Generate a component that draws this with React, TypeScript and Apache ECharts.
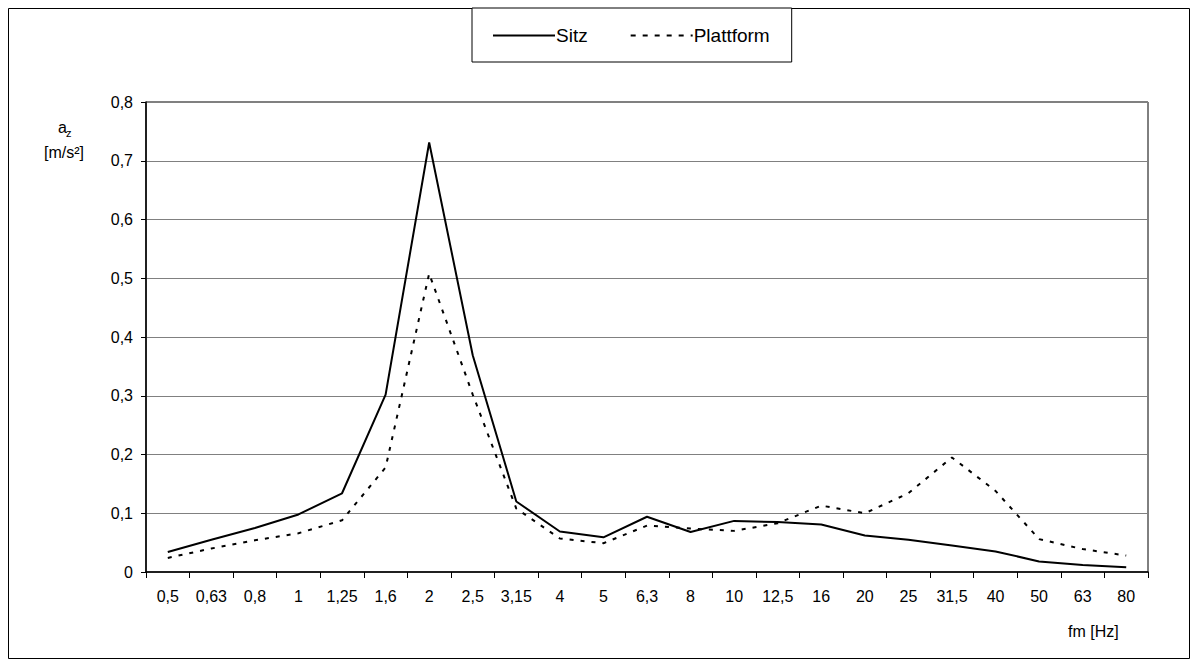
import React, { useEffect, useRef } from "react";
import * as echarts from "echarts";

const categories = ["0,5", "0,63", "0,8", "1", "1,25", "1,6", "2", "2,5", "3,15", "4", "5", "6,3", "8", "10", "12,5", "16", "20", "25", "31,5", "40", "50", "63", "80"];
const sitz = [0.034, 0.055, 0.075, 0.098, 0.134, 0.302, 0.731, 0.369, 0.12, 0.069, 0.059, 0.094, 0.068, 0.087, 0.085, 0.081, 0.062, 0.055, 0.045, 0.035, 0.018, 0.012, 0.008];
const plattform = [0.024, 0.04, 0.054, 0.066, 0.088, 0.178, 0.508, 0.302, 0.108, 0.057, 0.049, 0.079, 0.074, 0.07, 0.083, 0.113, 0.1, 0.134, 0.195, 0.138, 0.056, 0.039, 0.028];
const yMin = 0;
const yMax = 0.8;
const yStep = 0.1;

const FONT = "'Liberation Sans', Arial, sans-serif";

export default function App() {
  const ref = useRef<HTMLDivElement>(null);
  useEffect(() => {
    document.body.style.margin = "0";
    const chart = echarts.init(ref.current!, null, { renderer: "svg" });
    chart.setOption({
      animation: false,
      backgroundColor: "#ffffff",
      textStyle: { fontFamily: FONT, color: "#000" },
      grid: {
        left: 146,
        right: 50,
        top: 102,
        bottom: 95,
        show: true,
        borderColor: "#000",
        borderWidth: 1,
        backgroundColor: "transparent",
      },
      legend: {
        left: 472,
        top: 8,
        padding: [18, 22, 17, 20],
        itemWidth: 62,
        itemHeight: 14,
        itemGap: 42,
        borderColor: "#000",
        borderWidth: 1,
        backgroundColor: "#fff",
        itemStyle: { opacity: 0 },
        textStyle: { fontSize: 19, fontFamily: FONT, color: "#000", padding: [0, 0, 0, -4] },
        data: [
          { name: "Sitz" },
          { name: "Plattform", lineStyle: { type: [5, 7] } },
        ],
      },
      xAxis: {
        type: "category",
        data: categories,
        boundaryGap: true,
        axisLine: { lineStyle: { color: "#000", width: 1.5 } },
        axisTick: { show: true, length: 6, lineStyle: { color: "#000" } },
        axisLabel: { fontSize: 16, fontFamily: FONT, color: "#000", margin: 16, interval: 0 },
        splitLine: { show: false },
      },
      yAxis: {
        type: "value",
        min: yMin,
        max: yMax,
        interval: yStep,
        axisLine: { show: true, lineStyle: { color: "#000", width: 1.5 } },
        axisTick: { show: true, length: 5, lineStyle: { color: "#000" } },
        axisLabel: {
          fontSize: 16,
          fontFamily: FONT,
          color: "#000",
          margin: 13,
          formatter: (v: number) => (Math.round(v * 10) / 10).toString().replace(".", ","),
        },
        splitLine: { show: true, lineStyle: { color: "#808080", width: 1 } },
      },
      series: [
        {
          name: "Sitz",
          type: "line",
          data: sitz,
          symbol: "none",
          lineStyle: { color: "#000", width: 2, type: "solid" },
          itemStyle: { color: "#000" },
        },
        {
          name: "Plattform",
          type: "line",
          data: plattform,
          symbol: "none",
          lineStyle: { color: "#000", width: 2, type: [4, 7] },
          itemStyle: { color: "#000" },
        },
      ],
      graphic: [
        {
          type: "rect",
          silent: true,
          z: -10,
          shape: { x: 8.5, y: 8.5, width: 1181, height: 650 },
          style: { fill: "none", stroke: "#000", lineWidth: 1 },
        },
        {
          type: "text",
          left: 58,
          top: 119,
          style: { text: "a", fontSize: 16, fontFamily: FONT, fill: "#000" },
        },
        {
          type: "text",
          left: 66,
          top: 127,
          style: { text: "z", fontSize: 11, fontFamily: FONT, fill: "#000" },
        },
        {
          type: "text",
          left: 44,
          top: 144,
          style: { text: "[m/s²]", fontSize: 16, fontFamily: FONT, fill: "#000" },
        },
        {
          type: "text",
          left: 1068,
          top: 623,
          style: { text: "fm [Hz]", fontSize: 16, fontFamily: FONT, fill: "#000" },
        },
      ],
    });
    return () => chart.dispose();
  }, []);
  return <div ref={ref} style={{ width: 1198, height: 667 }} />;
}
